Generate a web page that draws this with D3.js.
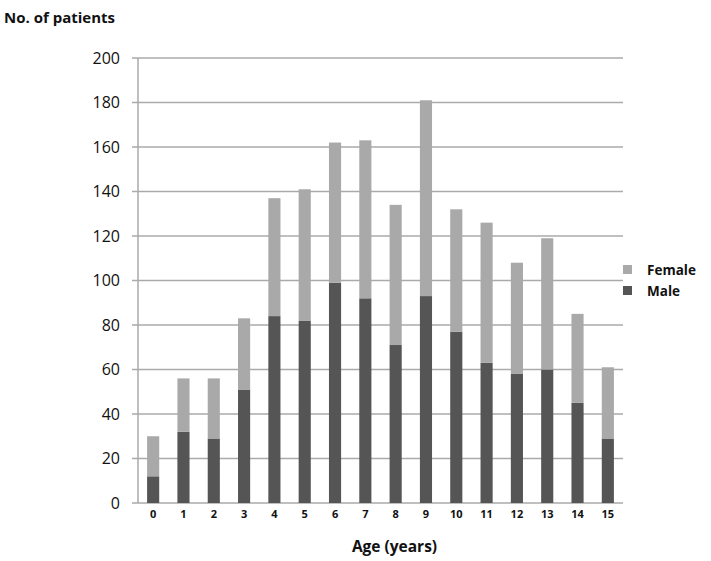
<!DOCTYPE html>
<html>
<head>
<meta charset="utf-8">
<script src="https://cdn.jsdelivr.net/npm/d3@7"></script>
<style>
  body { margin: 0; background: #fff; }
  text { font-family: "Open Sans", "Liberation Sans", sans-serif; }
</style>
</head>
<body>
<script>
// ages on the x axis
var ages = ["0","1","2","3","4","5","6","7","8","9","10","11","12","13","14","15"]
// counts
var male   = [12, 32, 29, 51, 84, 82, 99, 92, 71, 93, 77, 63, 58, 60, 45, 29]
var female = [18, 24, 27, 32, 53, 59, 63, 71, 63, 88, 55, 63, 50, 59, 40, 32]
var yTicks = [0, 20, 40, 60, 80, 100, 120, 140, 160, 180, 200]
var seriesNames = ["Male", "Female"]
var colors = {Male: "#555555", Female: "#a9a9a9"}

var W = 711, H = 561
var margin = {top: 58, right: 88, bottom: 58, left: 138}

var svg = d3.select("body").append("svg")
  .attr("width", W)
  .attr("height", H)

var x = d3.scaleBand()
  .domain(ages)
  .range([margin.left, W - margin.right])
  .paddingInner(0.6)
  .paddingOuter(0.3)

var y = d3.scaleLinear()
  .domain([0, 200])
  .range([H - margin.bottom, margin.top])

// gridlines
svg.append("g")
  .selectAll("line")
  .data(yTicks)
  .join("line")
  .attr("x1", margin.left - 6)
  .attr("x2", W - margin.right)
  .attr("y1", d => y(d))
  .attr("y2", d => y(d))
  .attr("stroke", "#aaaaaa")
  .attr("stroke-width", 1.5)

// y axis line
svg.append("line")
  .attr("x1", margin.left).attr("x2", margin.left)
  .attr("y1", y(200)).attr("y2", y(0))
  .attr("stroke", "#aaaaaa")
  .attr("stroke-width", 1.5)

// y tick labels
svg.append("g")
  .selectAll("text")
  .data(yTicks)
  .join("text")
  .attr("x", margin.left - 18)
  .attr("y", d => y(d))
  .attr("dy", "0.36em")
  .attr("text-anchor", "end")
  .attr("font-size", "16px")
  .attr("fill", "#111")
  .text(d => d)

// stacked bars
var rows = ages.map((a, i) => ({age: a, Male: male[i], Female: female[i]}))
var stack = d3.stack().keys(seriesNames)(rows)

svg.append("g")
  .selectAll("g")
  .data(stack)
  .join("g")
  .attr("fill", d => colors[d.key])
  .selectAll("rect")
  .data(d => d)
  .join("rect")
  .attr("x", d => x(d.data.age))
  .attr("width", x.bandwidth())
  .attr("y", d => y(d[1]))
  .attr("height", d => y(d[0]) - y(d[1]))

// x tick labels
svg.append("g")
  .selectAll("text")
  .data(ages)
  .join("text")
  .attr("x", d => x(d) + x.bandwidth() / 2)
  .attr("y", y(0) + 15)
  .attr("text-anchor", "middle")
  .attr("font-size", "11px")
  .attr("font-weight", "bold")
  .attr("fill", "#111")
  .text(d => d)

// axis titles
svg.append("text")
  .attr("x", 4)
  .attr("y", 23)
  .attr("font-size", "15px")
  .attr("font-weight", "bold")
  .attr("fill", "#111")
  .text("No. of patients")

svg.append("text")
  .attr("x", (margin.left + W - margin.right) / 2 + 14)
  .attr("y", 552)
  .attr("text-anchor", "middle")
  .attr("font-size", "15.5px")
  .attr("font-weight", "bold")
  .attr("fill", "#111")
  .text("Age (years)")

// legend
var legend = svg.append("g")
  .selectAll("g")
  .data(["Female", "Male"])
  .join("g")
  .attr("transform", (d, i) => `translate(623,${265 + i * 21})`)

legend.append("rect")
  .attr("width", 9)
  .attr("height", 9)
  .attr("fill", d => colors[d])

legend.append("text")
  .attr("x", 24)
  .attr("y", 5)
  .attr("dy", "0.35em")
  .attr("font-size", "13.5px")
  .attr("font-weight", "bold")
  .attr("fill", "#111")
  .text(d => d)
</script>
</body>
</html>
